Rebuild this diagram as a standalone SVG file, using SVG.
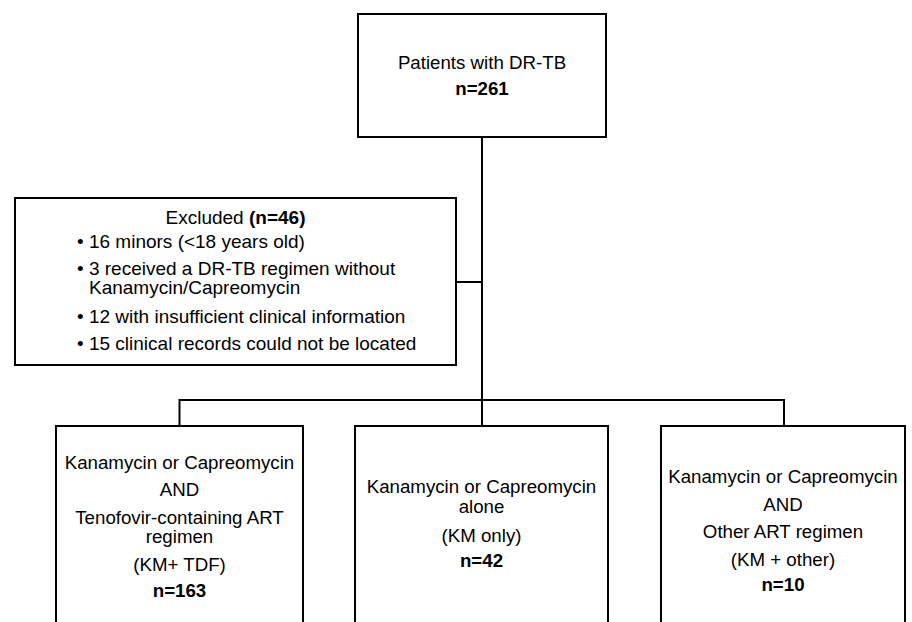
<svg xmlns="http://www.w3.org/2000/svg" width="912" height="622" viewBox="0 0 912 622">
<style>
.box{fill:#fff;stroke:#000;stroke-width:2}
.ln{fill:none;stroke:#000;stroke-width:2}
text{font-family:"Liberation Sans",Arial,sans-serif;font-size:18.7px;fill:#000}
.ex text{font-size:19px}
.c{text-anchor:middle}
.b{font-weight:bold}
</style>
<rect width="912" height="622" fill="#fff"/>
<g id="connectors">
<path class="ln" d="M482 137V400"/>
<path class="ln" d="M456 282H482"/>
<path class="ln" d="M179.5 426V400H784V426"/>
<path class="ln" d="M482 400V426"/>
</g>
<g id="patients">
<rect class="box" x="358" y="14" width="248" height="123"/>
<text class="c" x="482" y="69">Patients with DR-TB</text>
<text class="c b" x="482" y="95">n=261</text>
</g>
<g id="excluded" class="ex">
<rect class="box" x="15" y="198" width="441" height="167"/>
<text class="c" x="235.5" y="224">Excluded <tspan class="b">(n=46)</tspan></text>
<text x="77" y="248">• 16 minors (&lt;18 years old)</text>
<text x="77" y="275">• 3 received a DR-TB regimen without</text>
<text x="89" y="294">Kanamycin/Capreomycin</text>
<text x="77" y="323">• 12 with insufficient clinical information</text>
<text x="77" y="350">• 15 clinical records could not be located</text>
</g>
<g id="km-tdf">
<rect class="box" x="56" y="426" width="247" height="210"/>
<text class="c" x="179.5" y="469">Kanamycin or Capreomycin</text>
<text class="c" x="179.5" y="496">AND</text>
<text class="c" x="179.5" y="524">Tenofovir-containing ART</text>
<text class="c" x="179.5" y="543">regimen</text>
<text class="c" x="179.5" y="571">(KM+ TDF)</text>
<text class="c b" x="179.5" y="597">n=163</text>
</g>
<g id="km-only">
<rect class="box" x="355" y="426" width="253" height="210"/>
<text class="c" x="481.5" y="493">Kanamycin or Capreomycin</text>
<text class="c" x="481.5" y="513">alone</text>
<text class="c" x="481.5" y="542">(KM only)</text>
<text class="c b" x="481.5" y="567">n=42</text>
</g>
<g id="km-other">
<rect class="box" x="661" y="426" width="244" height="210"/>
<text class="c" x="783" y="483">Kanamycin or Capreomycin</text>
<text class="c" x="783" y="511">AND</text>
<text class="c" x="783" y="538">Other ART regimen</text>
<text class="c" x="783" y="566">(KM + other)</text>
<text class="c b" x="783" y="591">n=10</text>
</g>
</svg>
